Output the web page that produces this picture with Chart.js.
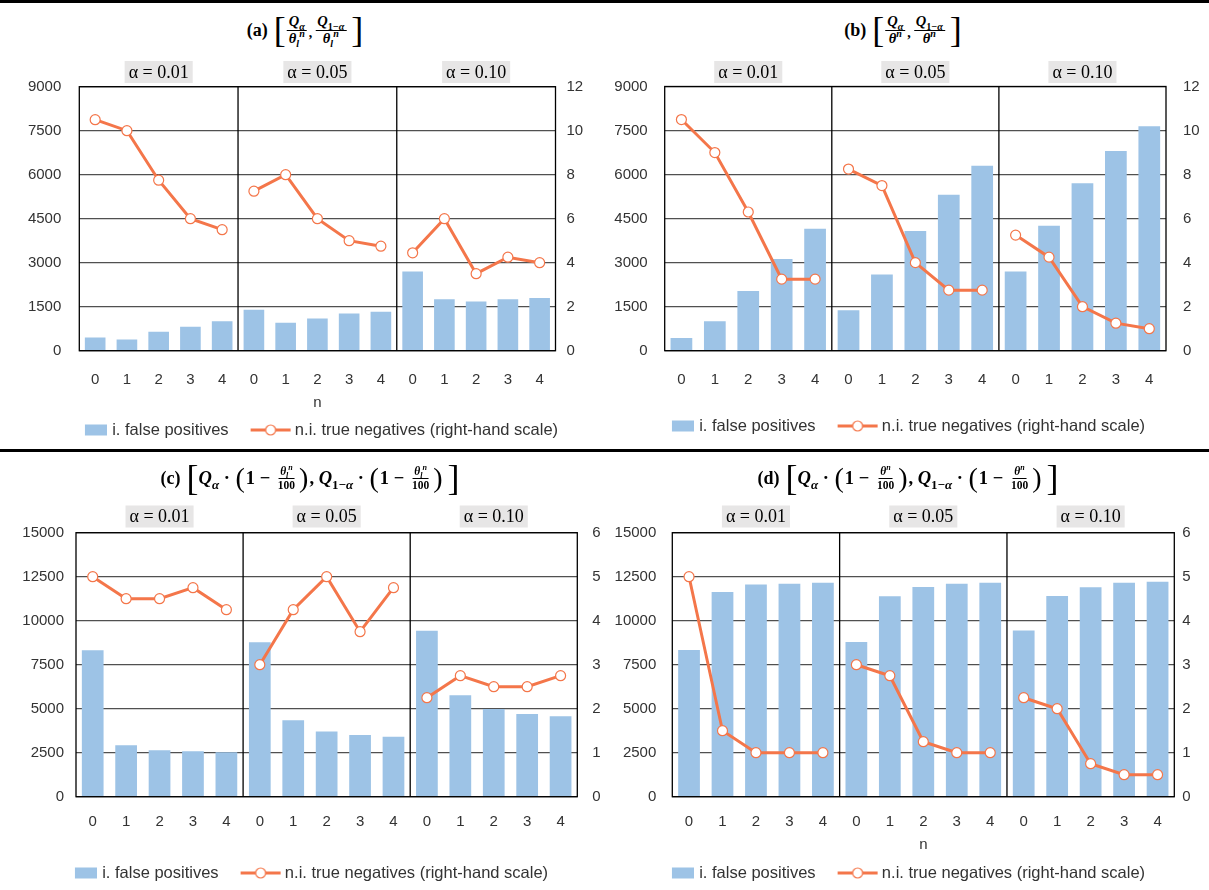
<!DOCTYPE html>
<html>
<head>
<meta charset="utf-8">
<script src="https://cdn.jsdelivr.net/npm/chart.js@4.4.1/dist/chart.umd.min.js"></script>
<style>
  html, body { margin: 0; padding: 0; background: #fff; overflow: hidden; width: 1209px; height: 890px; }
  #page { position: relative; width: 1209px; height: 890px; overflow: hidden; }
  .rule { position: absolute; left: 0; width: 1209px; height: 3px; background: #000; z-index: 5; }
  canvas { position: absolute; }
  .ttl { position: absolute; z-index: 4; transform: translate(-50%, -50%); display: flex; align-items: center;
         white-space: nowrap; font-family: "Liberation Serif", "Times New Roman", serif; font-weight: bold; color: #000; }
  .ttl .lab { font-size: 18px; margin-right: 6px; }
  .ttl .bk { font-weight: normal; font-size: 36px; line-height: 1; }
  .ttl .pr { font-weight: normal; font-size: 28px; line-height: 1; margin: 0 1px; }
  .ttl i { font-style: italic; }
  .ttl .big { font-size: 18.5px; }
  .fr { display: inline-flex; flex-direction: column; align-items: center; font-size: 14.5px; line-height: 1.1; margin: 0 1px; }
  .fr .nu { border-bottom: 1.2px solid #000; padding: 0 2px; }
  .fr .de { padding: 0 2px; }
  .fr.sm { font-size: 11.5px; }
  sub, sup { font-size: 70%; line-height: 0; }
</style>
</head>
<body>
<div id="page">
  <div class="rule" style="top:0"></div>
  <div class="rule" style="top:449px"></div>

  <div class="ttl" style="left:305px;top:30px">
    <span class="lab">(a)</span><span class="bk">[</span>
    <span class="fr"><span class="nu"><i>Q</i><sub><i>α</i></sub></span><span class="de"><i>θ</i><sub><i>l</i></sub><sup><i>n</i></sup></span></span>
    <span style="font-size:14px;margin:6px 2px 0 1px">,</span>
    <span class="fr"><span class="nu"><i>Q</i><sub>1−<i>α</i></sub></span><span class="de"><i>θ</i><sub><i>l</i></sub><sup><i>n</i></sup></span></span>
    <span class="bk" style="margin-left:4px">]</span>
  </div>

  <div class="ttl" style="left:903px;top:30px">
    <span class="lab">(b)</span><span class="bk">[</span>
    <span class="fr"><span class="nu"><i>Q</i><sub><i>α</i></sub></span><span class="de"><i>θ</i><sup><i>n</i></sup></span></span>
    <span style="font-size:14px;margin:6px 2px 0 1px">,</span>
    <span class="fr"><span class="nu"><i>Q</i><sub>1−<i>α</i></sub></span><span class="de"><i>θ</i><sup><i>n</i></sup></span></span>
    <span class="bk" style="margin-left:4px">]</span>
  </div>

  <div class="ttl" style="left:310px;top:478px">
    <span class="lab">(c)</span><span class="bk">[</span>
    <span class="big"><i>Q</i><sub><i>α</i></sub>&nbsp;·&nbsp;</span><span class="pr">(</span>
    <span class="big">1&nbsp;−&nbsp;</span>
    <span class="fr sm"><span class="nu"><i>θ</i><sub><i>l</i></sub><sup><i>n</i></sup></span><span class="de">100</span></span>
    <span class="pr">)</span><span class="big">,&nbsp;<i>Q</i><sub>1−<i>α</i></sub>&nbsp;·&nbsp;</span><span class="pr">(</span>
    <span class="big">1&nbsp;−&nbsp;</span>
    <span class="fr sm"><span class="nu"><i>θ</i><sub><i>l</i></sub><sup><i>n</i></sup></span><span class="de">100</span></span>
    <span class="pr">)</span><span class="bk" style="margin-left:4px">]</span>
  </div>

  <div class="ttl" style="left:908px;top:478px">
    <span class="lab">(d)</span><span class="bk">[</span>
    <span class="big"><i>Q</i><sub><i>α</i></sub>&nbsp;·&nbsp;</span><span class="pr">(</span>
    <span class="big">1&nbsp;−&nbsp;</span>
    <span class="fr sm"><span class="nu"><i>θ</i><sup><i>n</i></sup></span><span class="de">100</span></span>
    <span class="pr">)</span><span class="big">,&nbsp;<i>Q</i><sub>1−<i>α</i></sub>&nbsp;·&nbsp;</span><span class="pr">(</span>
    <span class="big">1&nbsp;−&nbsp;</span>
    <span class="fr sm"><span class="nu"><i>θ</i><sup><i>n</i></sup></span><span class="de">100</span></span>
    <span class="pr">)</span><span class="bk" style="margin-left:4px">]</span>
  </div>

  <canvas id="ca"></canvas>
  <canvas id="cb"></canvas>
  <canvas id="cc"></canvas>
  <canvas id="cd"></canvas>
</div>

<script>
// categories
const nTicks = ["0", "1", "2", "3", "4"];
const alphaLabels = ["α = 0.01", "α = 0.05", "α = 0.10"];
const categories = alphaLabels.flatMap(() => nTicks);

const barLabel = "i. false positives";
const lineLabel = "n.i. true negatives (right-hand scale)";

// (a)
const falsePosA = [450, 380, 650, 820, 1000, 1400, 950, 1100, 1270, 1330, 2700, 1750, 1680, 1750, 1800];
const trueNegA = [10.5, 10, 7.75, 6, 5.5, 7.25, 8, 6, 5, 4.75, 4.45, 6, 3.5, 4.25, 4];
// (b)
const falsePosB = [430, 1000, 2030, 3120, 4150, 1380, 2600, 4080, 5310, 6300, 2700, 4260, 5700, 6800, 7650];
const trueNegB = [10.5, 9, 6.3, 3.25, 3.25, 8.25, 7.5, 4, 2.75, 2.75, 5.25, 4.25, 2, 1.25, 1];
// (c)
const falsePosC = [8320, 2930, 2640, 2580, 2530, 8770, 4340, 3700, 3500, 3400, 9430, 5760, 4980, 4700, 4570];
const trueNegC = [5, 4.5, 4.5, 4.75, 4.25, 3, 4.25, 5, 3.75, 4.75, 2.25, 2.75, 2.5, 2.5, 2.75];
// (d)
const falsePosD = [8330, 11630, 12050, 12100, 12160, 8790, 11390, 11910, 12100, 12150, 9450, 11400, 11900, 12150, 12220];
const trueNegD = [5, 1.5, 1, 1, 1, 3, 2.75, 1.25, 1, 1, 2.25, 2, 0.75, 0.5, 0.5];

const BAR = "#9dc3e6";
const LINE = "#f4764a";
const GRID = "#505050";
const INK = "#333333";
const TICK_FONT = { family: "'Liberation Sans', Arial, sans-serif", size: 15 };
const LEG_FONT = { family: "'Liberation Sans', Arial, sans-serif", size: 16.5 };
const LEG_PAD = 16;
const LEG_SLOT = 42;

// legend icons (bar swatch, line with marker); drawn centred on a 42px slot
function legendIcon(kind) {
    const c = document.createElement("canvas");
    const g = c.getContext("2d");
    if (kind === "bar") {
        c.width = 48;
        c.height = 14;
        g.fillStyle = BAR;
        g.fillRect(26, 1.5, 22, 11);
    } else {
        c.width = 54;
        c.height = 14;
        g.strokeStyle = LINE;
        g.lineWidth = 3;
        g.beginPath();
        g.moveTo(12, 7);
        g.lineTo(52, 7);
        g.stroke();
        g.beginPath();
        g.arc(32, 7, 5, 0, Math.PI * 2);
        g.fillStyle = "#fff";
        g.fill();
        g.lineWidth = 1.2;
        g.stroke();
    }
    return c;
}
const barIcon = legendIcon("bar");
const lineIcon = legendIcon("line");

// separators, frame and alpha group labels
const groupDecor = {
    id: "groupDecor",
    afterDatasetsDraw(chart, args, opts) {
        const { ctx, chartArea: ca, scales: { x } } = chart;
        ctx.save();
        ctx.strokeStyle = "#000";
        ctx.lineWidth = 1.3;
        for (let g = 1; g < alphaLabels.length; g++) {
            const i = g * nTicks.length;
            const sx = (x.getPixelForValue(i - 1) + x.getPixelForValue(i)) / 2;
            ctx.beginPath();
            ctx.moveTo(sx, ca.top);
            ctx.lineTo(sx, ca.bottom);
            ctx.stroke();
        }
        ctx.strokeRect(ca.left, ca.top, ca.right - ca.left, ca.bottom - ca.top);

        ctx.font = "18px 'Liberation Serif', 'Times New Roman', serif";
        ctx.textAlign = "center";
        ctx.textBaseline = "middle";
        alphaLabels.forEach((lab, g) => {
            const first = g * nTicks.length;
            const cx = (x.getPixelForValue(first) + x.getPixelForValue(first + nTicks.length - 1)) / 2;
            const w = ctx.measureText(lab).width + 8;
            ctx.fillStyle = "#e7e6e6";
            ctx.fillRect(cx - w / 2, opts.y - 11, w, 22);
            ctx.fillStyle = "#000";
            ctx.fillText(lab, cx, opts.y + 1);
        });
        ctx.restore();
    },
};

// canvas boxes are centred on the legend, so they overlap a little (transparent)
const panels = [
    { id: "ca", box: { left: 0, top: 50, w: 620, h: 400 }, plot: { left: 79.3, right: 555.5, top: 86.7, bottom: 350.7 },
      tickY: 380, nY: 403, showN: true, legendY: 430, alphaY: 72, yPad: 18, y1Pad: 11,
      leftMax: 9000, leftStep: 1500, rightMax: 12, rightStep: 2, bars: falsePosA, line: trueNegA },
    { id: "cb", box: { left: 590, top: 50, w: 614, h: 400 }, plot: { left: 664.7, right: 1166, top: 86.5, bottom: 350.7 },
      tickY: 380, nY: 403, showN: false, legendY: 426, alphaY: 72, yPad: 17, y1Pad: 17,
      leftMax: 9000, leftStep: 1500, rightMax: 12, rightStep: 2, bars: falsePosB, line: trueNegB },
    { id: "cc", box: { left: -2, top: 497, w: 604, h: 400 }, plot: { left: 76, right: 577.3, top: 532.7, bottom: 796.7 },
      tickY: 822, nY: 845, showN: false, legendY: 873, alphaY: 516.5, yPad: 12, y1Pad: 15,
      leftMax: 15000, leftStep: 2500, rightMax: 6, rightStep: 1, bars: falsePosC, line: trueNegC },
    { id: "cd", box: { left: 590, top: 497, w: 614, h: 400 }, plot: { left: 672.3, right: 1174.3, top: 532.7, bottom: 796.7 },
      tickY: 822, nY: 845, showN: true, legendY: 873, alphaY: 516.5, yPad: 16, y1Pad: 8,
      leftMax: 15000, leftStep: 2500, rightMax: 6, rightStep: 1, bars: falsePosD, line: trueNegD },
];

function buildChart(p) {
    const el = document.getElementById(p.id);
    el.width = p.box.w;
    el.height = p.box.h;
    el.style.left = p.box.left + "px";
    el.style.top = p.box.top + "px";
    el.style.width = p.box.w + "px";
    el.style.height = p.box.h + "px";

    // legend box height in Chart.js: item + padding + 10
    const legendH = LEG_FONT.size + LEG_PAD + 10;
    const legendTop = p.legendY - LEG_PAD - LEG_FONT.size / 2;
    const xH = legendTop - p.plot.bottom;
    const yW = p.plot.left - p.box.left;
    const y1W = p.box.left + p.box.w - p.plot.right;

    return new Chart(el, {
        data: {
            labels: categories,
            datasets: [
                {
                    type: "bar",
                    label: barLabel,
                    data: p.bars,
                    backgroundColor: BAR,
                    borderWidth: 0,
                    categoryPercentage: 1,
                    barPercentage: 0.65,
                    yAxisID: "y",
                    order: 2,
                },
                {
                    type: "line",
                    label: lineLabel,
                    data: p.line,
                    borderColor: LINE,
                    borderWidth: 3,
                    pointRadius: 5,
                    pointBackgroundColor: "#fff",
                    pointBorderColor: LINE,
                    pointBorderWidth: 1.2,
                    tension: 0,
                    yAxisID: "y1",
                    order: 1,
                    // break the line between alpha groups
                    segment: {
                        borderColor: (ctx) => (ctx.p0DataIndex % nTicks.length === nTicks.length - 1 ? "rgba(0,0,0,0)" : LINE),
                    },
                },
            ],
        },
        options: {
            responsive: false,
            animation: false,
            devicePixelRatio: 1,
            layout: {
                padding: {
                    left: 0,
                    right: 0,
                    top: p.plot.top - p.box.top,
                    bottom: p.box.top + p.box.h - legendTop - legendH,
                },
            },
            scales: {
                x: {
                    grid: { display: false, drawTicks: false },
                    border: { display: false },
                    ticks: { font: TICK_FONT, color: INK, padding: p.tickY - 9 - p.plot.bottom, autoSkip: false, maxRotation: 0 },
                    title: {
                        display: p.showN,
                        text: "n",
                        font: TICK_FONT,
                        color: INK,
                        padding: { top: 0, bottom: legendTop - p.nY - 9 },
                    },
                    afterFit: (s) => { s.height = xH; },
                },
                y: {
                    position: "left",
                    min: 0,
                    max: p.leftMax,
                    ticks: { stepSize: p.leftStep, font: TICK_FONT, color: INK, padding: p.yPad, callback: (v) => String(v) },
                    grid: { color: GRID, lineWidth: 1.3, drawTicks: false },
                    border: { display: false },
                    afterFit: (s) => { s.width = yW; },
                },
                y1: {
                    position: "right",
                    min: 0,
                    max: p.rightMax,
                    ticks: { stepSize: p.rightStep, font: TICK_FONT, color: INK, padding: p.y1Pad, callback: (v) => String(v) },
                    grid: { display: false, drawTicks: false },
                    border: { display: false },
                    afterFit: (s) => { s.width = y1W; },
                },
            },
            plugins: {
                tooltip: { enabled: false },
                groupDecor: { y: p.alphaY - p.box.top },
                legend: {
                    position: "bottom",
                    labels: {
                        font: LEG_FONT,
                        color: INK,
                        padding: LEG_PAD,
                        usePointStyle: true,
                        pointStyleWidth: LEG_SLOT,
                        sort: (a, b) => a.datasetIndex - b.datasetIndex,
                        generateLabels(chart) {
                            const items = Chart.defaults.plugins.legend.labels.generateLabels(chart);
                            items.forEach((it) => {
                                it.pointStyle = it.datasetIndex === 0 ? barIcon : lineIcon;
                            });
                            return items;
                        },
                    },
                },
            },
        },
        plugins: [groupDecor],
    });
}

panels.forEach(buildChart);
</script>
</body>
</html>
